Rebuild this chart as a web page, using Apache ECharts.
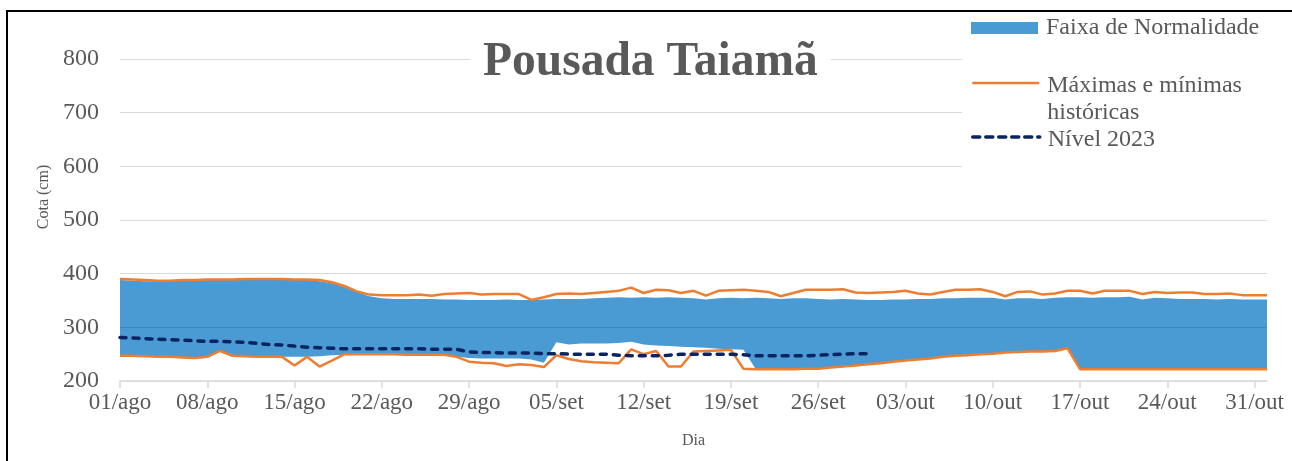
<!DOCTYPE html>
<html><head><meta charset="utf-8">
<script src="https://cdn.jsdelivr.net/npm/echarts@6/dist/echarts.min.js"></script>
<style>html,body{margin:0;padding:0;background:#fff}#c{width:1292px;height:461px}</style>
</head><body><div id="c"></div>
<script>
// categories: daily from 01/ago to 01/nov
const months = [['ago', 31], ['set', 30], ['out', 31], ['nov', 1]];
const days = [];
months.forEach(([m, n]) => { for (let d = 1; d <= n; d++) days.push(String(d).padStart(2, '0') + '/' + m); });
const tickLabels = ['01/ago','08/ago','15/ago','22/ago','29/ago','05/set','12/set','19/set','26/set','03/out','10/out','17/out','24/out','31/out'];
const yTicks = [200, 300, 400, 500, 600, 700, 800];

// Faixa de Normalidade: lower and upper bounds (cm)
const normalMin = [247,247,246,245,245,244,243,245,254,247,246,245,245,245,245,245,246,248,249,250,
  250,250,250,249,249,249,249,245,243,242,242,242,242,240,234,272,268,270,270,270,
  271,273,268,266,265,264,263,262,260,259,258,222,222,222,222,223,223,225,227,229,
  231,233,236,238,240,242,245,247,248,250,251,253,254,255,255,256,261,222,222,222,
  222,222,222,222,222,222,222,222,222,222,222,222,222];
const normalMax = [388,387,386,386,386,387,387,388,388,388,389,389,389,389,388,388,386,382,375,366,
  358,354,353,353,353,353,352,352,351,351,351,352,351,351,352,353,353,353,354,355,
  356,355,356,355,356,355,354,352,354,355,354,355,354,353,354,354,353,352,353,352,
  351,351,352,352,353,353,354,354,355,355,355,352,354,354,353,355,356,356,355,356,
  356,357,352,355,354,353,353,353,352,353,352,352,352];
// Máximas e mínimas históricas
const histMax = [390,389,388,387,387,388,388,389,389,389,390,390,390,390,389,389,388,384,377,367,
  361,360,360,360,361,359,362,363,364,361,362,362,362,351,356,362,363,362,364,366,
  368,374,364,370,369,364,368,359,368,369,370,368,366,358,364,370,370,370,371,365,
  364,365,366,368,363,361,366,370,370,371,366,358,366,367,361,363,368,368,363,368,
  368,368,362,366,364,365,365,362,362,363,360,360,360];
const histMin = [247,247,246,245,245,244,243,245,256,247,246,245,245,245,229,245,227,238,250,250,
  250,250,250,249,249,249,249,245,236,234,233,228,231,230,226,248,241,237,235,234,
  233,259,250,256,227,227,255,256,257,258,223,222,222,222,222,223,223,225,227,229,
  231,233,236,238,240,242,245,247,248,250,251,253,254,255,255,256,261,222,222,222,
  222,222,222,222,222,222,222,222,222,222,222,222,222];
// Nível 2023 (01/ago to 30/set)
const level2023 = [281,280,279,278,277,276,275,274,274,273,272,270,268,267,265,263,262,261,260,260,
  260,260,260,260,260,259,259,259,254,253,253,252,252,252,251,251,250,250,250,250,
  248,247,247,247,248,250,250,250,250,250,249,247,247,247,247,247,248,249,250,251,251];

const bandSpan = normalMax.map((v, i) => v - normalMin[i]);
const FONT = 'Liberation Serif';
const GRAY = '#595959';
const BLUE = '#4A9AD4';
const ORANGE = '#ED7D31';
const NAVY = '#0A2461';

const chart = echarts.init(document.getElementById('c'), null, { renderer: 'canvas' });
const rich = {
  s: { fontFamily: FONT, fontSize: 4, lineHeight: 32 },
  s2: { fontFamily: FONT, fontSize: 4, lineHeight: 6 },
  t: { fontFamily: FONT, fontSize: 24, color: GRAY, lineHeight: 27 }
};
const legendText = { fontFamily: FONT, fontSize: 24, color: GRAY, lineHeight: 27, padding: [0, 0, 0, 3], rich: rich };
const noSymbol = { opacity: 0 };
chart.setOption({
  animation: false,
  backgroundColor: '#fff',
  title: {
    text: 'Pousada Taiamã', left: 470, top: 36, padding: [2, 13],
    backgroundColor: '#fff', z: 6,
    textStyle: { fontFamily: FONT, fontWeight: 'bold', fontSize: 47.5, color: GRAY, lineHeight: 50 }
  },
  grid: { left: 120, right: 25, top: 59, bottom: 80, containLabel: false },
  legend: [
    { data: ['Faixa de Normalidade'], left: 971, top: 14.5, padding: 0, itemWidth: 67, itemHeight: 12, icon: 'rect', textStyle: legendText, z: 5 },
    { data: ['Máximas e mínimas históricas'], left: 971, top: 40, padding: 0, itemWidth: 67, itemHeight: 14, itemStyle: noSymbol,
      lineStyle: { width: 2.5 },
      textStyle: legendText, formatter: () => '{s| }\n{t|Máximas e mínimas}\n{t|históricas}', z: 5 },
    { data: ['Nível 2023'], left: 971, top: 120.5, padding: 0, itemWidth: 67, itemHeight: 14, itemStyle: noSymbol,
      lineStyle: { width: 3.5, type: [7, 6], cap: 'round' },
      textStyle: legendText, formatter: () => '{s2| }\n{t|Nível 2023}', z: 5 }
  ],
  xAxis: {
    type: 'category', data: days, boundaryGap: false,
    name: 'Dia', nameLocation: 'middle', nameGap: 52,
    nameTextStyle: { fontFamily: FONT, fontSize: 16, color: GRAY },
    axisLine: { lineStyle: { color: '#D9D9D9', width: 1.5 } },
    axisTick: { show: true, inside: false, length: 7, lineStyle: { color: '#D9D9D9', width: 1.5 }, interval: (i, v) => tickLabels.includes(v) },
    axisLabel: { interval: (i, v) => tickLabels.includes(v), fontFamily: FONT, fontSize: 23, color: GRAY, margin: 10 },
    splitLine: { show: false }
  },
  yAxis: {
    type: 'value', min: yTicks[0], max: yTicks[yTicks.length - 1], interval: 100,
    axisLine: { show: false }, axisTick: { show: false },
    axisLabel: { fontFamily: FONT, fontSize: 24, color: GRAY, margin: 21 },
    splitLine: { lineStyle: { color: '#D9D9D9', width: 1.2 } }
  },
  graphic: [
    { type: 'rect', z: 1, shape: { x: 962, y: 13, width: 340, height: 158 }, style: { fill: '#fff' } },
    { type: 'text', z: 5, x: 44, y: 197, rotation: Math.PI / 2,
      style: { text: 'Cota (cm)', fontFamily: FONT, fontSize: 16, fill: GRAY, textAlign: 'center', textVerticalAlign: 'middle' } },
    { type: 'rect', z: 10, shape: { x: 7, y: 11, width: 1300, height: 470 }, style: { fill: 'none', stroke: '#000', lineWidth: 2 } }
  ],
  series: [
    { name: 'base', type: 'line', data: normalMin, stack: 'band', symbol: 'none', silent: true,
      lineStyle: { opacity: 0, width: 0 } },
    { name: 'Faixa de Normalidade', type: 'line', data: bandSpan, stack: 'band', symbol: 'none', silent: true,
      color: BLUE, itemStyle: { color: BLUE },
      lineStyle: { width: 0, opacity: 0 }, areaStyle: { color: BLUE, opacity: 1 },
      markLine: { silent: true, symbol: 'none', label: { show: false },
        lineStyle: { color: 'rgba(30,80,130,0.28)', width: 1, type: 'solid' }, data: [{ yAxis: 300 }] } },
    { name: 'Máximas e mínimas históricas', type: 'line', data: histMax, symbol: 'none',
      color: ORANGE, lineStyle: { color: ORANGE, width: 2.5 } },
    { name: 'hmin', type: 'line', data: histMin, symbol: 'none',
      color: ORANGE, lineStyle: { color: ORANGE, width: 2.5 } },
    { name: 'Nível 2023', type: 'line', data: level2023, symbol: 'none', z: 4,
      color: NAVY, lineStyle: { color: NAVY, width: 3.5, type: [6, 7], cap: 'round' } }
  ]
});
</script></body></html>
